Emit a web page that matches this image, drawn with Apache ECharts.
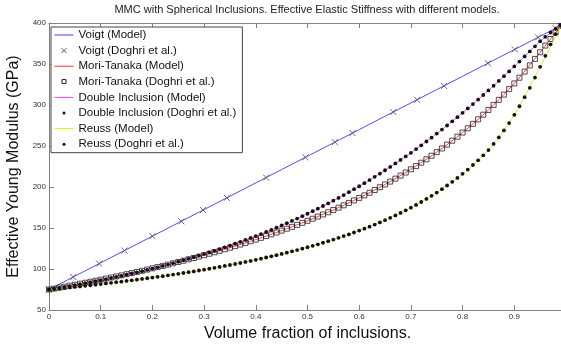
<!DOCTYPE html>
<html>
<head>
<meta charset="utf-8">
<script src="https://cdn.jsdelivr.net/npm/echarts@6/dist/echarts.min.js"></script>
<style>
html,body{margin:0;padding:0;background:#fff;}
#chart{width:561px;height:344px;}
</style>
</head>
<body>
<div id="chart"></div>
<script>
// ---------- data ----------
const chartTitle = 'MMC with Spherical Inclusions. Effective Elastic Stiffness with different models.';
const xAxisTitle = 'Volume fraction of inclusions.';
const yAxisTitle = 'Effective Young Modulus (GPa)';

const seriesNames = ['Voigt (Model)', 'Voigt (Doghri et al.)', 'Mori-Tanaka (Model)', 'Mori-Tanaka (Doghri et al.)',
  'Double Inclusion (Model)', 'Double Inclusion (Doghri et al.)', 'Reuss (Model)', 'Reuss (Doghri et al.)'];

// model curves (volume fraction -> modulus)
const fracModel = [0, 0.05, 0.1, 0.15, 0.2, 0.25, 0.3, 0.35, 0.4, 0.45, 0.5, 0.55, 0.6, 0.65, 0.7, 0.75, 0.8, 0.85, 0.9, 0.95, 0.99];
const voigtModel = [75, 91.3, 107.5, 123.8, 140, 156.3, 172.5, 188.8, 205, 221.3, 237.5, 253.8, 270, 286.3, 302.5, 318.8, 335, 351.3, 367.5, 383.8, 396.8];
const mtModel = [75, 80.8, 87.0, 93.6, 100.8, 108.5, 116.9, 126.0, 135.9, 146.8, 158.8, 172.0, 186.7, 203.1, 221.6, 242.5, 266.4, 294.0, 326.3, 364.3, 396.5];
const diModel = [75, 80.4, 86.4, 93.1, 100.5, 108.9, 118.2, 128.6, 140.2, 153.1, 167.4, 183.3, 200.9, 220.4, 241.7, 265.1, 290.4, 317.8, 347.0, 377.6, 397.5];
const reussModel = [75, 78.2, 81.6, 85.4, 89.6, 94.1, 99.2, 104.9, 111.2, 118.4, 126.5, 135.9, 146.8, 159.6, 174.8, 193.2, 216.1, 245.0, 288.0, 346.5, 396.5];

// Doghri et al. reference points
const voigtDoghriX = [0, 0.047, 0.097, 0.146, 0.2, 0.256, 0.298, 0.344, 0.42, 0.496, 0.553, 0.587, 0.666, 0.712, 0.764, 0.849, 0.901, 0.946, 0.98];
const voigtDoghriY = [75, 90.3, 106.5, 122.5, 140, 158.2, 171.9, 186.8, 211.5, 236.2, 254.7, 265.8, 291.5, 306.4, 323.3, 350.9, 367.8, 382.5, 393.5];

const fracDoghri = [0, 0.01, 0.02, 0.03, 0.04, 0.05, 0.06, 0.07, 0.08, 0.09,
  0.10, 0.11, 0.12, 0.13, 0.14, 0.15, 0.16, 0.17, 0.18, 0.19,
  0.20, 0.21, 0.22, 0.23, 0.24, 0.25, 0.26, 0.27, 0.28, 0.29,
  0.30, 0.31, 0.32, 0.33, 0.34, 0.35, 0.36, 0.37, 0.38, 0.39,
  0.40, 0.41, 0.42, 0.43, 0.44, 0.45, 0.46, 0.47, 0.48, 0.49,
  0.50, 0.51, 0.52, 0.53, 0.54, 0.55, 0.56, 0.57, 0.58, 0.59,
  0.60, 0.61, 0.62, 0.63, 0.64, 0.65, 0.66, 0.67, 0.68, 0.69,
  0.70, 0.71, 0.72, 0.73, 0.74, 0.75, 0.76, 0.77, 0.78, 0.79,
  0.80, 0.81, 0.82, 0.83, 0.84, 0.85, 0.86, 0.87, 0.88, 0.89,
  0.90, 0.91, 0.92, 0.93, 0.94, 0.95, 0.96, 0.97, 0.98, 0.99];

const mtDoghri = [75.0, 76.1, 77.3, 78.4, 79.6, 80.8, 82.0, 83.2, 84.4, 85.7,
  87.0, 88.3, 89.6, 90.9, 92.2, 93.6, 95.0, 96.4, 97.8, 99.3,
  100.8, 102.3, 103.8, 105.3, 106.9, 108.5, 110.1, 111.8, 113.4, 115.1,
  116.9, 118.6, 120.4, 122.2, 124.1, 126.0, 127.9, 129.8, 131.8, 133.9,
  135.9, 138.0, 140.1, 142.3, 144.5, 146.8, 149.1, 151.4, 153.8, 156.3,
  158.8, 161.3, 163.9, 166.5, 169.2, 172.0, 174.8, 177.7, 180.6, 183.6,
  186.7, 189.8, 193.0, 196.3, 199.7, 203.1, 206.6, 210.2, 213.9, 217.7,
  221.6, 225.5, 229.6, 233.8, 238.1, 242.5, 247.0, 251.7, 256.5, 261.4,
  266.4, 271.6, 277.0, 282.5, 288.2, 294.0, 300.1, 306.3, 312.7, 319.4,
  326.3, 333.3, 340.7, 348.3, 356.2, 364.3, 372.5, 380.5, 388.5, 396.5];

const diDoghri = [75.0, 76.0, 77.1, 78.1, 79.2, 80.4, 81.5, 82.7, 83.9, 85.1,
  86.4, 87.6, 89.0, 90.3, 91.7, 93.1, 94.5, 95.9, 97.4, 99.0,
  100.5, 102.1, 103.8, 105.4, 107.1, 108.9, 110.7, 112.5, 114.3, 116.3,
  118.2, 120.2, 122.2, 124.3, 126.4, 128.6, 130.8, 133.1, 135.4, 137.8,
  140.2, 142.6, 145.2, 147.7, 150.4, 153.1, 155.8, 158.6, 161.5, 164.4,
  167.4, 170.5, 173.6, 176.8, 180.0, 183.3, 186.7, 190.2, 193.7, 197.3,
  200.9, 204.7, 208.5, 212.4, 216.3, 220.4, 224.5, 228.7, 233.0, 237.3,
  241.7, 246.2, 250.8, 255.5, 260.2, 265.1, 270.0, 275.0, 280.1, 285.2,
  290.4, 295.8, 301.1, 306.6, 312.2, 317.8, 323.5, 329.3, 335.1, 341.0,
  347.0, 353.0, 359.2, 365.3, 371.5, 377.6, 383.2, 388.4, 393.0, 397.5];

const reussDoghri = [75.0, 75.6, 76.2, 76.9, 77.5, 78.2, 78.8, 79.5, 80.2, 80.9,
  81.6, 82.4, 83.1, 83.9, 84.6, 85.4, 86.2, 87.0, 87.9, 88.7,
  89.6, 90.4, 91.3, 92.3, 93.2, 94.1, 95.1, 96.1, 97.1, 98.2,
  99.2, 100.3, 101.4, 102.5, 103.7, 104.9, 106.1, 107.3, 108.6, 109.9,
  111.2, 112.6, 114.0, 115.4, 116.9, 118.4, 119.9, 121.5, 123.1, 124.8,
  126.5, 128.3, 130.1, 132.0, 133.9, 135.9, 138.0, 140.1, 142.2, 144.5,
  146.8, 149.2, 151.6, 154.2, 156.8, 159.6, 162.4, 165.3, 168.4, 171.5,
  174.8, 178.2, 181.7, 185.4, 189.2, 193.2, 197.4, 201.8, 206.3, 211.1,
  216.1, 221.3, 226.8, 232.5, 238.6, 245.0, 252.5, 260.5, 269.0, 278.0,
  288.0, 298.5, 309.5, 321.0, 333.5, 346.5, 360.0, 374.0, 386.5, 396.5];

// axis ranges / ticks
const xMin = 0, xMax = 1, xStep = 0.1;
const yMin = 50, yMax = 400, yStep = 50;

// ---------- chart ----------
const FONT = 'Liberation Sans, Arial, Helvetica, sans-serif';
const AXIS_GRAY = '#808080';
function pairs(xs, ys) { return xs.map((x, i) => [x, ys[i]]); }

const lineIcon = 'path://M0,0M19,10M0,4.5L19,4.5L19,5.5L0,5.5Z';
const crossIcon = 'path://M0,0M19,10M7,2.5L12,7.5M12,2.5L7,7.5';
const squareIcon = 'path://M0,0M19,10M7.5,2.8L11.5,2.8L11.5,6.8L7.5,6.8Z';
const dotIcon = 'path://M0,0M19,10M11,5A1.5,1.5,0,1,1,8,5A1.5,1.5,0,1,1,11,5Z';

const chart = echarts.init(document.getElementById('chart'), null, { renderer: 'canvas' });

const baseX = {
  type: 'value', min: xMin, max: xMax, interval: xStep,
  axisLine: { show: true, onZero: false, lineStyle: { color: AXIS_GRAY, width: 1 } },
  axisTick: { show: true, inside: true, length: 5, lineStyle: { color: AXIS_GRAY, width: 1 } },
  splitLine: { show: false }, minorTick: { show: false }
};
const baseY = {
  type: 'value', min: yMin, max: yMax, interval: yStep,
  axisLine: { show: true, onZero: false, lineStyle: { color: AXIS_GRAY, width: 1 } },
  axisTick: { show: true, inside: true, length: 5, lineStyle: { color: AXIS_GRAY, width: 1 } },
  splitLine: { show: false }
};

const option = {
  animation: false,
  backgroundColor: '#ffffff',
  textStyle: { fontFamily: FONT },
  title: {
    text: chartTitle, left: 307, top: 4, padding: 0, textAlign: 'center',
    textStyle: { fontFamily: FONT, fontSize: 11, fontWeight: 'normal', color: '#222' }
  },
  grid: { left: 49, top: 23, width: 517, height: 287, outerBoundsMode: 'none', containLabel: false },
  legend: {
    orient: 'vertical', left: 51, top: 27,
    padding: [1, 6, 1.5, 3], itemGap: 1.6, itemWidth: 19, itemHeight: 10,
    backgroundColor: '#ffffff', borderColor: '#444', borderWidth: 1, borderRadius: 0,
    textStyle: { fontFamily: FONT, fontSize: 11.5, color: '#111', lineHeight: 14 },
    selectedMode: false,
    data: [
      { name: seriesNames[0], icon: lineIcon, itemStyle: { color: '#3a3aff' } },
      { name: seriesNames[1], icon: crossIcon, itemStyle: { color: 'rgba(0,0,0,0)', borderColor: '#555', borderWidth: 1 } },
      { name: seriesNames[2], icon: lineIcon, itemStyle: { color: '#ff3030' } },
      { name: seriesNames[3], icon: squareIcon, itemStyle: { color: 'rgba(0,0,0,0)', borderColor: '#222', borderWidth: 1 } },
      { name: seriesNames[4], icon: lineIcon, itemStyle: { color: '#ff40ff' } },
      { name: seriesNames[5], icon: dotIcon, itemStyle: { color: '#111', borderWidth: 0 } },
      { name: seriesNames[6], icon: lineIcon, itemStyle: { color: '#e8e800' } },
      { name: seriesNames[7], icon: dotIcon, itemStyle: { color: '#111', borderWidth: 0 } }
    ]
  },
  xAxis: [
    Object.assign({}, baseX, {
      position: 'bottom',
      axisLabel: { show: true, fontFamily: FONT, fontSize: 8, color: '#333', margin: 3,
        formatter: v => (v >= 0.999 ? '' : String(+v.toFixed(1))) },
      name: xAxisTitle, nameLocation: 'middle', nameGap: 7,
      nameTextStyle: { fontFamily: FONT, fontSize: 16, color: '#111' }
    }),
    Object.assign({}, baseX, { position: 'top', axisLabel: { show: false } })
  ],
  yAxis: [
    Object.assign({}, baseY, {
      position: 'left',
      axisLabel: { show: true, fontFamily: FONT, fontSize: 8, color: '#333', margin: 3 },
      name: yAxisTitle, nameLocation: 'middle', nameGap: 26, nameRotate: 90,
      nameTextStyle: { fontFamily: FONT, fontSize: 16, color: '#111' }
    }),
    Object.assign({}, baseY, { position: 'right', axisLabel: { show: false } })
  ],
  series: [
    { name: seriesNames[0], type: 'line', data: pairs(fracModel, voigtModel), showSymbol: false, symbol: 'none',
      lineStyle: { color: '#3a3aff', width: 0.9 }, itemStyle: { color: '#3a3aff' }, z: 2 },
    { name: seriesNames[1], type: 'line', data: pairs(voigtDoghriX, voigtDoghriY),
      symbol: 'path://M0,0L10,10M10,0L0,10', symbolSize: 6,
      lineStyle: { opacity: 0, width: 0 },
      itemStyle: { color: 'rgba(0,0,0,0)', borderColor: '#555', borderWidth: 0.9 }, z: 3 },
    { name: seriesNames[2], type: 'line', data: pairs(fracModel, mtModel), showSymbol: false, symbol: 'none', smooth: 0.3,
      lineStyle: { color: '#ff3030', width: 0.9 }, itemStyle: { color: '#ff3030' }, z: 4 },
    { name: seriesNames[3], type: 'line', data: pairs(fracDoghri, mtDoghri),
      symbol: 'rect', symbolSize: 5,
      lineStyle: { opacity: 0, width: 0 },
      itemStyle: { color: 'rgba(0,0,0,0)', borderColor: '#222', borderWidth: 0.8 }, z: 5 },
    { name: seriesNames[4], type: 'line', data: pairs(fracModel, diModel), showSymbol: false, symbol: 'none', smooth: 0.3,
      lineStyle: { color: '#ff40ff', width: 0.9 }, itemStyle: { color: '#ff40ff' }, z: 6 },
    { name: seriesNames[5], type: 'line', data: pairs(fracDoghri, diDoghri),
      symbol: 'circle', symbolSize: 3.8,
      lineStyle: { opacity: 0, width: 0 },
      itemStyle: { color: '#111', borderWidth: 0 }, z: 7 },
    { name: seriesNames[6], type: 'line', data: pairs(fracModel, reussModel), showSymbol: false, symbol: 'none', smooth: 0.3,
      lineStyle: { color: '#e8e800', width: 0.9 }, itemStyle: { color: '#e8e800' }, z: 8 },
    { name: seriesNames[7], type: 'line', data: pairs(fracDoghri, reussDoghri),
      symbol: 'circle', symbolSize: 3.8,
      lineStyle: { opacity: 0, width: 0 },
      itemStyle: { color: '#111', borderWidth: 0 }, z: 9 }
  ]
};
option.series.forEach(s => { s.silent = true; s.emphasis = { disabled: true }; });
chart.setOption(option);
</script>
</body>
</html>
